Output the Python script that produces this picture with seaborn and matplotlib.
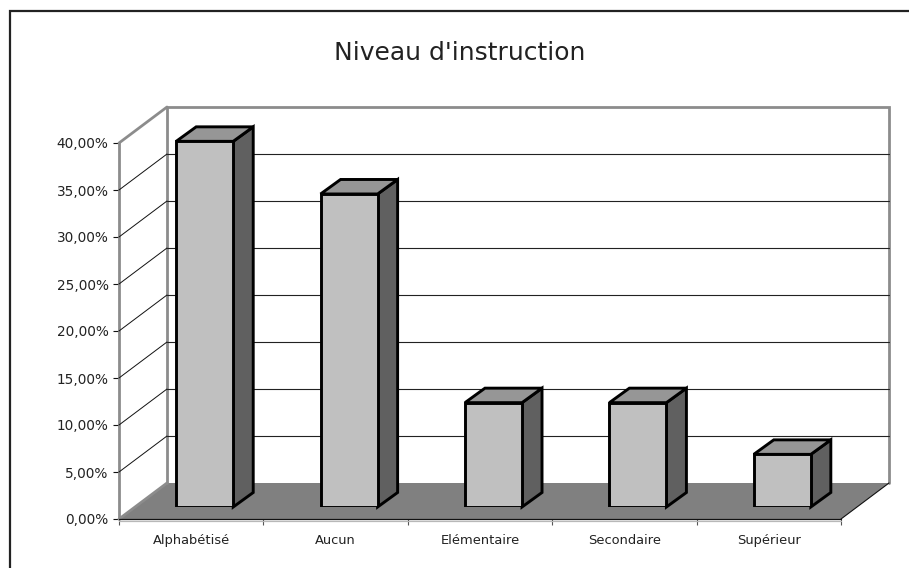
import matplotlib
matplotlib.use("Agg")
import matplotlib.pyplot as plt
from matplotlib.patches import Polygon, Rectangle
import seaborn as sns

title = "Niveau d'instruction"
categories = ["Alphabétisé", "Aucun", "Elémentaire", "Secondaire", "Supérieur"]
values = [38.9, 33.3, 11.1, 11.1, 5.6]
y_ticks = [0, 5, 10, 15, 20, 25, 30, 35, 40]
y_labels = ["0,00%", "5,00%", "10,00%", "15,00%", "20,00%", "25,00%", "30,00%", "35,00%", "40,00%"]

W, H = 909, 568
sns.set_theme(style="white")
plt.rcParams["font.family"] = ["DejaVu Sans"]

fig = plt.figure(figsize=(W / 100, H / 100), dpi=100, facecolor="white")

def place(left, right, top, bottom):
    return [left / W, 1 - bottom / H, (right - left) / W, (bottom - top) / H]

L, R, T, B = 119, 841, 143, 519
ax = fig.add_axes(place(L, R, T, B))
ax.set_xlim(-0.5, 4.5)
ax.set_ylim(0, 40)
ax.patch.set_visible(False)

px_x = (R - L) / 5
px_y = (B - T) / 40
DX, DY = 48 / px_x, 36 / px_y
x0, x1 = -0.5, 4.5

# Frame of the chart area (runs off the right and bottom of the image)
fig.add_artist(Rectangle((10 / W, -0.1), 1.1, 0.1 + 557 / H, transform=fig.transFigure,
                         fill=False, edgecolor="#222222", linewidth=1.6))

# Floor, walls and grid
ax.add_patch(Polygon([(x0, 0), (x1, 0), (x1 + DX, DY), (x0 + DX, DY)],
                     facecolor="#808080", edgecolor="none", zorder=1, clip_on=False))
ax.plot([x0 + DX, x0 + DX, x1 + DX, x1 + DX], [DY, 40 + DY, 40 + DY, DY],
        color="#8c8c8c", lw=2.0, zorder=2, clip_on=False, solid_joinstyle="miter")
ax.plot([x0, x0 + DX], [40, 40 + DY], color="#8c8c8c", lw=2.0, zorder=2, clip_on=False)
ax.plot([x0, x0 + DX], [0, DY], color="#8c8c8c", lw=2.0, zorder=2, clip_on=False)
ax.plot([x0, x0], [0, 40], color="#8c8c8c", lw=2.0, zorder=2, clip_on=False)
for t in y_ticks[1:-1]:
    ax.plot([x0, x0 + DX], [t, t + DY], color="#111111", lw=0.7, zorder=3, clip_on=False)
    ax.plot([x0 + DX, x1 + DX], [t + DY, t + DY], color="#222222", lw=0.8, zorder=3, clip_on=False)
ax.plot([x0, x1], [0, 0], color="#111111", lw=0.9, zorder=3, clip_on=False)
ax.plot([x0, x1], [-0.25, -0.25], color="#b8b8b8", lw=0.9, zorder=3, clip_on=False)
ax.plot([x1, x1 + DX], [0, DY], color="#111111", lw=0.8, zorder=3, clip_on=False)

# Ticks and labels
for s in ax.spines.values():
    s.set_visible(False)
ax.set_yticks(y_ticks)
ax.set_yticklabels(y_labels, fontsize=9.8, color="#222222")
ax.set_xticks([i - 0.5 for i in range(len(categories) + 1)])
ax.set_xticklabels([])
ax.set_xticks(range(len(categories)), categories, minor=True, fontsize=9.4, color="#222222")
ax.tick_params(axis="y", which="major", left=True, length=4.5, width=0.8, color="#111111", pad=3)
ax.tick_params(axis="x", which="major", bottom=True, length=4.5, width=0.8, color="#555555")
ax.tick_params(axis="x", which="minor", bottom=False, length=0, pad=11)

# Bars sit part-way into the floor depth, on an axes shifted accordingly
SHIFT_X, SHIFT_Y = 13.5, 12
bar_ax = fig.add_axes(place(L + SHIFT_X, R + SHIFT_X, T - SHIFT_Y, B - SHIFT_Y), zorder=5)
sns.barplot(x=categories, y=values, color="#c0c0c0", saturation=1, width=0.395,
            edgecolor="black", linewidth=2.1, ax=bar_ax, zorder=3)
bar_ax.set_xlim(-0.5, 4.5)
bar_ax.set_ylim(0, 40)
bar_ax.axis("off")

BDX, BDY = 20 / px_x, 14.5 / px_y
for bar in bar_ax.patches:
    xa, xb = bar.get_x(), bar.get_x() + bar.get_width()
    h = bar.get_height()
    bar.set_joinstyle("miter")
    bar_ax.add_patch(Polygon([(xb, 0), (xb + BDX, BDY), (xb + BDX, h + BDY), (xb, h)],
                             facecolor="#606060", edgecolor="black", linewidth=2.1,
                             joinstyle="miter", zorder=2, clip_on=False))
    bar_ax.add_patch(Polygon([(xa, h), (xa + BDX, h + BDY), (xb + BDX, h + BDY), (xb, h)],
                             facecolor="#969696", edgecolor="black", linewidth=2.1,
                             joinstyle="miter", zorder=2, clip_on=False))

fig.text(459.5 / W, 1 - 53 / H, title, ha="center", va="center", fontsize=18, color="#222222")

fig.savefig("out.png", dpi=100)
